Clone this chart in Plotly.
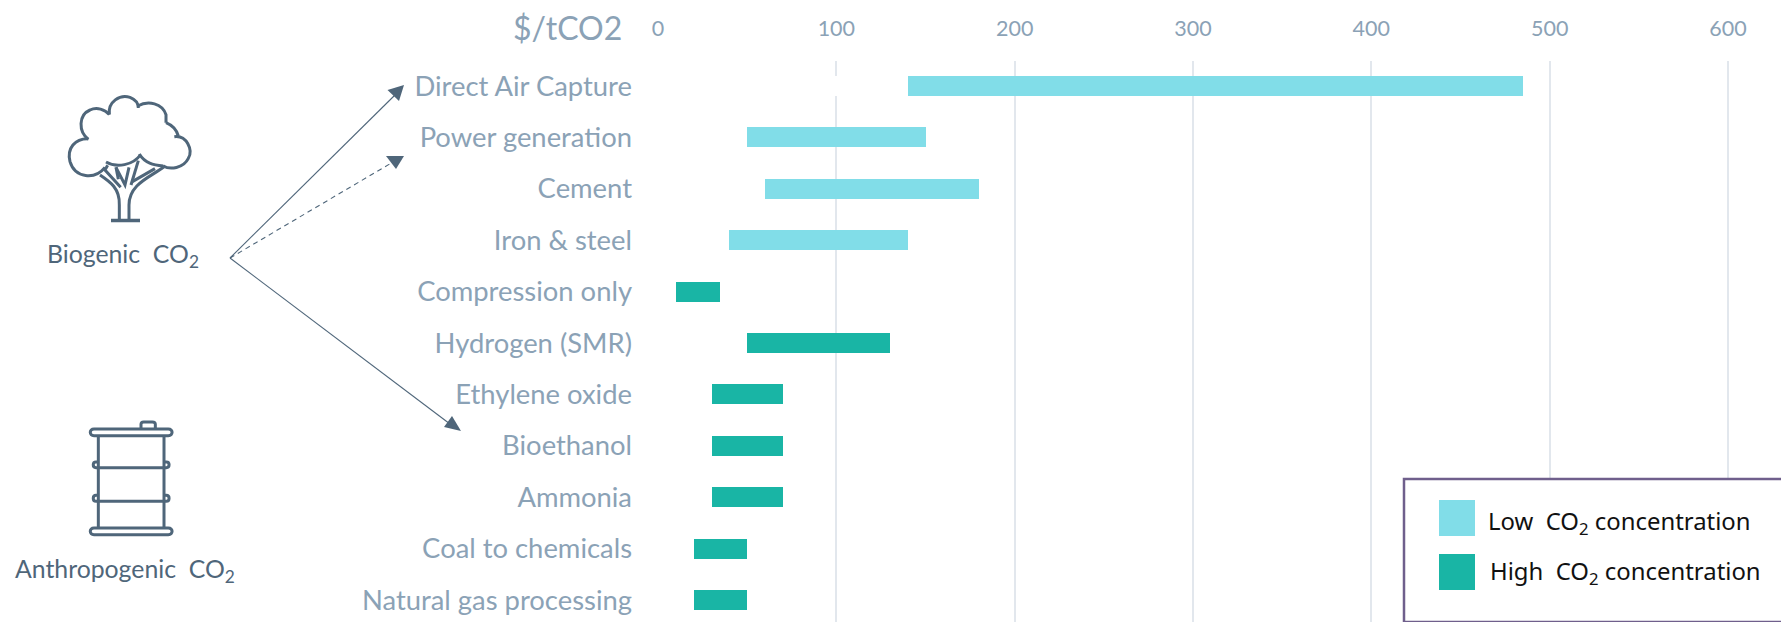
import re
import plotly.graph_objects as go

W, H = 1781, 622
L, T = 658, 61

categories = ["Direct Air Capture", "Power generation", "Cement", "Iron & steel", "Compression only",
              "Hydrogen (SMR)", "Ethylene oxide", "Bioethanol", "Ammonia", "Coal to chemicals",
              "Natural gas processing"]
low_values = [140, 50, 60, 40, 10, 50, 30, 30, 30, 20, 20]
high_values = [485, 150, 180, 140, 35, 130, 70, 70, 70, 50, 50]
groups = ["Low", "Low", "Low", "Low", "High", "High", "High", "High", "High", "High", "High"]
x_ticks = [0, 100, 200, 300, 400, 500, 600]

LIGHT, TEAL = "#81DDE8", "#19B5A5"
LABEL, ICON, GRID = "#8BA2B6", "#4F667A", "#E2E7ED"
FONT = "Lato"


def px(x):
    return (x - L) / (W - L)


def py(y):
    return (H - y) / (H - T)


def icon_path(path, ox, oy, s):
    def rep(m):
        return f"{px(ox + float(m[1]) * s):.5f},{py(oy + float(m[2]) * s):.5f}"
    return re.sub(r"(-?[\d.]+),(-?[\d.]+)", rep, path)


fig = go.Figure()
for name, colour in (("Low", LIGHT), ("High", TEAL)):
    idx = [i for i, g in enumerate(groups) if g == name]
    fig.add_bar(
        y=[categories[i] for i in idx],
        x=[high_values[i] - low_values[i] for i in idx],
        base=[low_values[i] for i in idx],
        orientation="h", width=0.39, marker=dict(color=colour, line_width=0),
        name=f"{name} CO2 concentration", showlegend=False,
    )

shapes = []
# white box that interrupts the 100 gridline beside the first bar
shapes.append(dict(type="rect", xref="x", yref="y", x0=96, x1=104, y0=-0.195, y1=0.195,
                   fillcolor="white", line_width=0, layer="above"))


def page_line(x0, y0, x1, y1, dash="solid", width=1.1):
    shapes.append(dict(type="line", xref="paper", yref="paper", x0=px(x0), y0=py(y0), x1=px(x1), y1=py(y1),
                       line=dict(color=ICON, width=width, dash=dash)))


def page_poly(pts):
    d = "M " + " L ".join(f"{px(a):.5f},{py(b):.5f}" for a, b in pts) + " Z"
    shapes.append(dict(type="path", xref="paper", yref="paper", path=d, fillcolor=ICON, line_width=0))


# arrows
page_line(230, 258, 396, 94)
page_poly([(404, 85), (387.5, 90), (399, 101)])
page_line(230, 258, 393, 162, dash="5px,4px")
page_poly([(404, 156), (386, 156), (396, 169)])
page_line(230, 258, 450, 424)
page_poly([(461, 431), (452, 416), (444, 427)])

# tree icon
tree = [
    "M 150,232 C 120,270 60,265 45,215 C 35,175 60,145 100,146",
    "M 100,148 C 70,125 70,75 105,60 C 125,50 150,58 163,74",
    "M 163,74 C 158,35 195,12 225,22 C 240,28 250,40 250,54",
    "M 248,48 C 280,30 322,40 333,74 L 333,98",
    "M 333,98 C 350,105 365,120 370,138",
    "M 358,140 C 395,135 415,180 400,205 C 385,235 345,240 325,228",
    "M 325,228 C 295,225 270,220 253,192",
    "M 256,195 C 235,225 185,235 153,216",
    "M 135,255 C 165,275 195,295 193,345 L 193,390",
    "M 330,228 C 290,260 222,280 222,345 L 222,390",
    "M 158,226 L 150,240 L 197,292",
    "M 183,232 L 190,268",
    "M 183,232 L 210,285 L 222,232",
    "M 250,212 L 228,285",
    "M 300,236 L 232,275",
]
for d in tree:
    shapes.append(dict(type="path", xref="paper", yref="paper", path=icon_path(d, 55, 90, 1 / 3),
                       line=dict(color=ICON, width=3)))
page_line(111, 220.5, 140, 220.5, width=3.5)

# barrel icon
barrel = [
    "M 57,42 L 280,42 C 295,42 295,62 280,62 L 57,62 C 42,62 42,42 57,42 Z",
    "M 198,42 L 198,28 C 198,22 202,21 206,21 L 232,21 C 238,21 241,24 241,28 L 241,42",
    "M 70,62 L 70,338",
    "M 267,62 L 267,338",
    "M 70,141 L 63,141 C 52,141 52,158 63,158 L 274,158 C 285,158 285,141 274,141 L 267,141",
    "M 70,241 L 63,241 C 52,241 52,259 63,259 L 274,259 C 285,259 285,241 274,241 L 267,241",
    "M 57,339 L 280,339 C 295,339 295,359 280,359 L 57,359 C 42,359 42,339 57,339 Z",
]
for d in barrel:
    shapes.append(dict(type="path", xref="paper", yref="paper", path=icon_path(d, 75, 415, 1 / 3),
                       line=dict(color=ICON, width=3)))

# legend box and swatches
shapes.append(dict(type="rect", xref="paper", yref="paper", x0=px(1404), y0=py(479), x1=px(1800), y1=py(622),
                   fillcolor="white", line=dict(color="#6F5F8C", width=2.5)))
shapes.append(dict(type="rect", xref="paper", yref="paper", x0=px(1439), x1=px(1475), y0=py(500), y1=py(536),
                   fillcolor=LIGHT, line_width=0))
shapes.append(dict(type="rect", xref="paper", yref="paper", x0=px(1439), x1=px(1475), y0=py(554), y1=py(590),
                   fillcolor=TEAL, line_width=0))


def note(text, x, y, size, colour, anchor="center", family=FONT):
    return dict(text=text, x=px(x), y=py(y), xref="paper", yref="paper", xanchor=anchor, yanchor="middle",
                showarrow=False, font=dict(family=family, size=size, color=colour))


annotations = [
    note("$/tCO2", 624, 27, 32, LABEL, "right"),
    note("Biogenic\u00a0 CO<sub>2</sub>", 123, 256, 24.8, ICON),
    note("Anthropogenic\u00a0 CO<sub>2</sub>", 125, 570, 24.8, ICON),
    note("Low\u00a0 CO<sub>2</sub> concentration", 1486, 522, 23.9, "#111111", "left", "Noto Sans"),
    note("High\u00a0 CO<sub>2</sub> concentration", 1488, 572, 23.9, "#111111", "left", "Noto Sans"),
]

fig.update_layout(
    width=W, height=H, autosize=False, margin=dict(l=L, r=0, t=T, b=0, pad=0),
    paper_bgcolor="white", plot_bgcolor="white", barmode="overlay", bargap=0,
    shapes=shapes, annotations=annotations, showlegend=False,
    xaxis=dict(side="top", range=[0, (W - L) / 1.7833], tickvals=x_ticks, showgrid=True, gridcolor=GRID,
               gridwidth=2, zeroline=False, showline=False, ticks="", ticklabelstandoff=20,
               tickfont=dict(family=FONT, size=21.5, color=LABEL)),
    yaxis=dict(categoryorder="array", categoryarray=categories, type="category",
               range=[10.428, -0.486], showgrid=False, zeroline=False, showline=False, ticks="",
               ticklabelstandoff=25, tickfont=dict(family=FONT, size=27.4, color=LABEL)),
)

fig.write_html("out.html", config={"displayModeBar": False},
               post_script="document.body.style.margin='0';")
